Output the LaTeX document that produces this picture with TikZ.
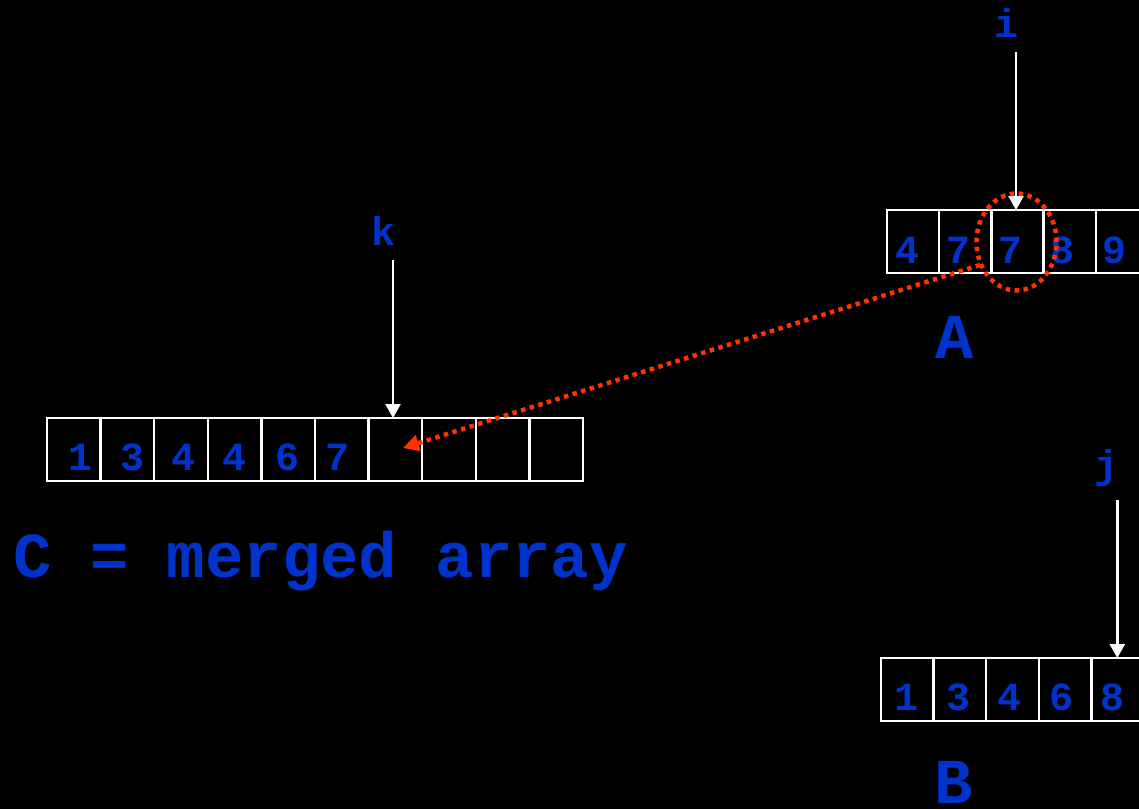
\documentclass[tikz,border=0pt]{standalone}
\usepackage{fontspec}
\setmonofont{Liberation Mono}
\usetikzlibrary{arrows.meta,shapes.geometric}
\definecolor{txtblue}{HTML}{0033CC}
\definecolor{dotred}{HTML}{FF3300}
\begin{document}
\begin{tikzpicture}[x=1pt,y=-1pt,
  cell/.style={draw=white,line width=2.5pt,minimum height=63pt,inner sep=0pt,outer sep=0pt,anchor=north west},
  digit/.style={text=txtblue,font=\ttfamily\bfseries\fontsize{40}{40}\selectfont,anchor=base,inner sep=0pt},
  ptr/.style={text=txtblue,font=\ttfamily\bfseries\fontsize{40}{40}\selectfont,anchor=base,inner sep=0pt},
  big/.style={text=txtblue,font=\ttfamily\bfseries\fontsize{64}{64}\selectfont,anchor=base,inner sep=0pt},
  ptrarrow/.style={draw=white,line width=2.5pt,-{Triangle[width=15pt,length=14pt]}},
  reddots/.style={draw=dotred,line width=4.5pt,dash pattern=on 4.5pt off 4.5pt}]
\fill[black] (0,0) rectangle (1139,809);
\useasboundingbox (0,0) rectangle (1139,809);
% array A
\foreach \n/\x in {1/887,2/939.2,3/991.4,4/1043.6,5/1095.8}
  \node[cell,minimum width=52.2pt] (a\n) at (\x,210) {};
\foreach \n/\x/\d in {1/907/4,2/958/7,3/1010/7,4/1062/8,5/1114/9}
  \node[digit] (ad\n) at (\x,263) {\d};
% array B
\foreach \n/\x in {1/881,2/933.6,3/986.2,4/1038.8,5/1091.4}
  \node[cell,minimum width=52.6pt] (b\n) at (\x,658) {};
\foreach \n/\x/\d in {1/906.7/1,2/958.5/3,3/1009.5/4,4/1061.7/6,5/1112.5/8}
  \node[digit] (bd\n) at (\x,710) {\d};
% array C
\foreach \n/\x in {1/47,2/100.6,3/154.2,4/207.8,5/261.4,6/315,7/368.6,8/422.2,9/475.8,10/529.4}
  \node[cell,minimum width=53.6pt] (c\n) at (\x,418) {};
\foreach \n/\x/\d in {1/80.8/1,2/132.6/3,3/183.7/4,4/234.8/4,5/287/6,6/337.4/7}
  \node[digit] (cd\n) at (\x,470.5) {\d};
% labels
\node[ptr] (li) at (1006,37) {i};
\node[ptr] (lk) at (383,245) {k};
\node[ptr] (lj) at (1106,478) {j};
\node[big] (lA) at (955,358) {A};
\node[big] (lB) at (954,803) {B};
\node[big,anchor=base west] (lC) at (13,577) {C = merged array};
% pointers
\coordinate (itop) at (1016,52);
\coordinate (ktop) at (393,260);
\coordinate (jtop) at (1117.3,500);
\draw[ptrarrow] (itop) -- (itop |- a3.north);
\draw[ptrarrow] (ktop) -- (ktop |- c7.north);
\draw[ptrarrow] (jtop) -- (jtop |- b5.north);
% red circle and arrow
\node[reddots,ellipse,minimum width=80pt,minimum height=97pt,inner sep=0pt] (circ) at (1016.5,242) {};
\coordinate (rstart) at (980,265);
\coordinate (rend) at (403,448);
\draw[reddots,-{Triangle[width=16pt,length=16pt,sep=0pt]}] (rstart) -- (rend);
\end{tikzpicture}
\end{document}
